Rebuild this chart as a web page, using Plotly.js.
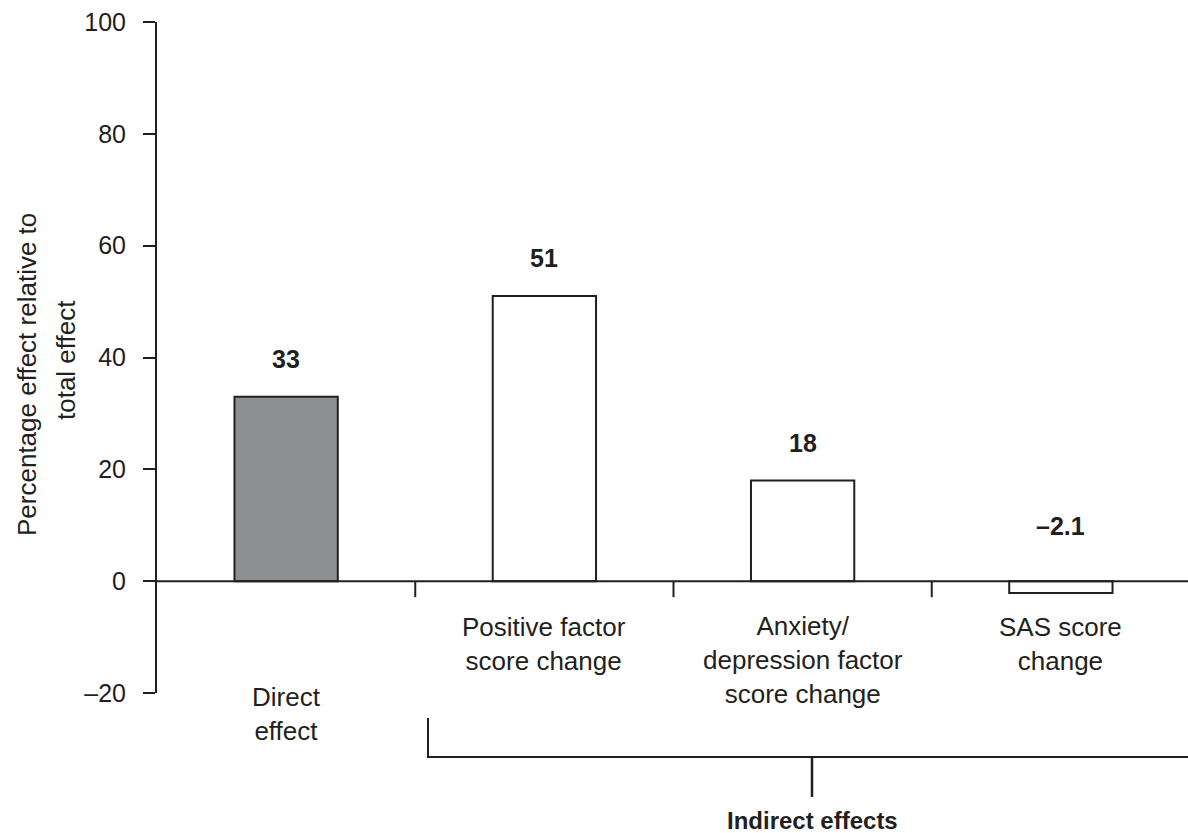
<!DOCTYPE html>
<html>
<head>
<meta charset="utf-8">
<script src="https://cdn.plot.ly/plotly-3.0.1.min.js"></script>
<style>html,body{margin:0;padding:0;background:#fff;}#chart{width:1188px;height:833px;}</style>
</head>
<body>
<div id="chart"></div>
<script>
// ---- data ----
var categories = ["Direct<br>effect", "Positive factor<br>score change", "Anxiety/<br>depression factor<br>score change", "SAS score<br>change"];
var values = [33, 51, 18, -2.1];
var valueLabels = ["33", "51", "18", "\u20132.1"];
var barColors = ["#8e8f93", "#ffffff", "#ffffff", "#ffffff"];
var yTickVals = [-20, 0, 20, 40, 60, 80, 100];
var yTickText = ["\u201320", "0", "20", "40", "60", "80", "100"];
var yTitleLines = ["Percentage effect relative to", "total effect"];
var groupLabel = "Indirect effects";

// ---- layout helpers (pixel -> paper) ----
var W = 1188, H = 833, L = 157, T = 22, B = 140, R = 0;
var PW = W - L - R, PH = H - T - B;
function px(x) { return (x - L) / PW; }
function py(y) { return (H - B - y) / PH; }

var ink = "#231f20";
var font = "Liberation Sans, Arial, Helvetica, sans-serif";
var xs = categories.map(function (c, i) { return i; });

var trace = {
  type: "bar",
  x: xs,
  y: values,
  width: 0.4,
  marker: { color: barColors, line: { color: ink, width: 2 } },
  hoverinfo: "skip"
};

var annotations = [];
// value labels
values.forEach(function (v, i) {
  annotations.push({
    xref: "x", yref: "y", x: i, y: Math.max(v, 0),
    yshift: v >= 0 ? 38 : 55,
    text: "<b>" + valueLabels[i] + "</b>", showarrow: false,
    font: { family: font, size: 25, color: ink }, xanchor: "center", yanchor: "middle"
  });
});
// category labels
var catMid = [714, 644, 660, 644];
categories.forEach(function (c, i) {
  annotations.push({
    xref: "x", yref: "paper", x: i, y: py(catMid[i]),
    text: c, showarrow: false, align: "center",
    font: { family: font, size: 26, color: ink }, xanchor: "center", yanchor: "middle"
  });
});
// y-axis title lines
annotations.push({
  xref: "paper", yref: "paper", x: px(27), y: py(375), textangle: -90,
  text: yTitleLines[0], showarrow: false,
  font: { family: font, size: 26, color: ink }, xanchor: "center", yanchor: "middle"
});
annotations.push({
  xref: "paper", yref: "paper", x: px(66), y: py(360), textangle: -90,
  text: yTitleLines[1], showarrow: false,
  font: { family: font, size: 26, color: ink }, xanchor: "center", yanchor: "middle"
});
// group label
annotations.push({
  xref: "paper", yref: "paper", x: px(812), y: py(820),
  text: "<b>" + groupLabel + "</b>", showarrow: false,
  font: { family: font, size: 24, color: ink }, xanchor: "center", yanchor: "middle"
});

var shapes = [];
// zero line
shapes.push({ type: "line", xref: "x", yref: "y", x0: -0.5, x1: 3.5, y0: 0, y1: 0, line: { color: ink, width: 2 } });
// category divider ticks below the zero line
[0.5, 1.5, 2.5].forEach(function (d) {
  shapes.push({ type: "line", xref: "x", yref: "y", x0: d, x1: d, y0: 0, y1: -16 / (PH / 120), line: { color: ink, width: 2 } });
});
// indirect effects bracket
shapes.push({ type: "line", xref: "paper", yref: "paper", x0: px(428), x1: px(428), y0: py(718), y1: py(757), line: { color: ink, width: 2 } });
shapes.push({ type: "line", xref: "paper", yref: "paper", x0: px(427), x1: px(1192), y0: py(757), y1: py(757), line: { color: ink, width: 2 } });
shapes.push({ type: "line", xref: "paper", yref: "paper", x0: px(812), x1: px(812), y0: py(757), y1: py(797), line: { color: ink, width: 2.5 } });

var layout = {
  width: W, height: H,
  margin: { l: L, r: R, t: T, b: B, pad: 0 },
  paper_bgcolor: "#ffffff", plot_bgcolor: "#ffffff",
  showlegend: false,
  font: { family: font, size: 25, color: ink },
  xaxis: {
    range: [-0.5, 3.5 - 2 / 258.25], visible: false, fixedrange: true
  },
  yaxis: {
    range: [-20, 100], tickvals: yTickVals, ticktext: yTickText,
    showline: true, linecolor: ink, linewidth: 2,
    ticks: "outside", ticklen: 12, tickwidth: 2, tickcolor: ink,
    ticklabelstandoff: 12,
    showgrid: false, zeroline: false,
    tickfont: { family: font, size: 25, color: ink }, fixedrange: true
  },
  annotations: annotations,
  shapes: shapes
};

Plotly.newPlot("chart", [trace], layout, { displayModeBar: false, staticPlot: true });
</script>
</body>
</html>
